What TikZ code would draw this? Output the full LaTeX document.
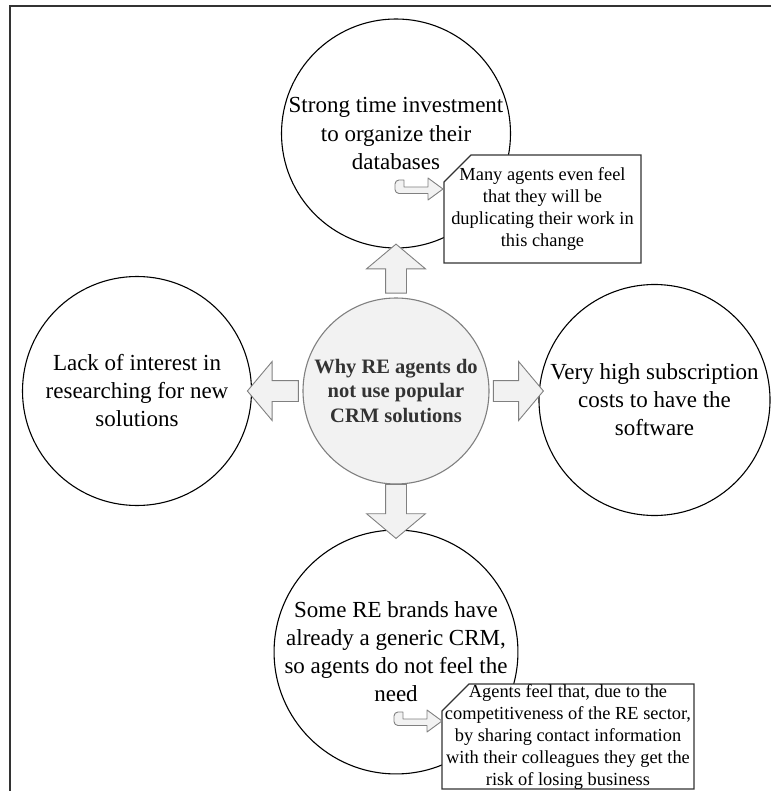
\documentclass[tikz,border=0pt]{standalone}
\usepackage{fontspec}
\setmainfont{Liberation Serif}
\usetikzlibrary{shapes.arrows,shapes.misc}
\definecolor{lightfill}{HTML}{F2F2F2}
\definecolor{edgegray}{HTML}{808080}
\definecolor{notegray}{HTML}{333333}
\begin{document}
\begin{tikzpicture}[x=1pt,y=-1pt,
  bigcirc/.style={circle, draw, line width=1.1pt, minimum size=229pt, inner sep=0pt, align=center, font=\fontsize{23}{28}\selectfont},
  hubcirc/.style={circle, draw=edgegray, fill=lightfill, line width=1.1pt, minimum size=186pt, inner sep=0pt, align=center, text=notegray, font=\fontsize{20.5}{24.5}\selectfont\bfseries},
  blockarrow/.style={single arrow, draw=edgegray, fill=lightfill, line width=0.9pt, inner sep=0pt, inner ysep=10pt, single arrow head extend=19pt, single arrow tip angle=100},
  notebox/.style={chamfered rectangle, chamfered rectangle corners=north west, chamfered rectangle xsep=13pt, chamfered rectangle ysep=14pt, draw=notegray, fill=white, line width=1.3pt, inner xsep=-13pt, inner ysep=-14pt, align=center, font=\fontsize{18.4}{22}\selectfont},
  bentarrow/.pic={
    \draw[draw=edgegray, fill=lightfill, line width=0.9pt, line join=round]
      (-15,4.5) [rounded corners=4pt] -- (-48,4.5) -- (-48,-9) [sharp corners] -- (-39,-9) -- (-39,-2)
      -- (-15,-2) -- (-15,-11) -- (0,0) -- (-15,11) -- cycle;
  }]
\useasboundingbox (0,0) rectangle (771,791);
\draw[line width=1.3pt, draw=notegray] (771,6) -- (10,6) -- (10,791);
% outer circles
\node[bigcirc] (cid1) at (396,133.5) {Strong time investment\\to organize their\\databases};
\node[bigcirc] (cid2) at (137,391) {Lack of interest in\\researching for new\\solutions};
\node[bigcirc, minimum size=231pt] (cid3) at (654.5,400) {Very high subscription\\costs to have the\\software};
\node[bigcirc] (cid4) at (396,652) {Some RE brands have\\already a generic CRM,\\so agents do not feel the\\need};
% hub
\node[hubcirc] (cid0) at (396,391) {Why RE agents do\\not use popular\\CRM solutions};
\path (cid0.north) -- node[blockarrow, rotate=90, minimum height=49pt] (aid1) {} (cid1.south);
\path (cid0.west) -- node[blockarrow, rotate=180, minimum height=51pt] (aid2) {} (cid0.west -| cid2.east);
\path (cid0.east) -- node[blockarrow, minimum height=50pt] (aid3) {} (cid0.east -| cid3.west);
\path (cid0.south) -- node[blockarrow, rotate=-90, minimum height=54pt] (aid4) {} (cid4.north);
% notes
\node[notebox, minimum width=197pt, minimum height=108pt] (nid1) at (542.5,209) {Many agents even feel\\that they will be\\duplicating their work in\\this change};
\node[notebox, minimum width=252pt, minimum height=105pt] (nid2) at (568,736.5) {Agents feel that, due to the\\competitiveness of the RE sector,\\by sharing contact information\\with their colleagues they get the\\risk of losing business};
\pic at (443,189) {bentarrow};
\pic at (442,721) {bentarrow};
\end{tikzpicture}
\end{document}
